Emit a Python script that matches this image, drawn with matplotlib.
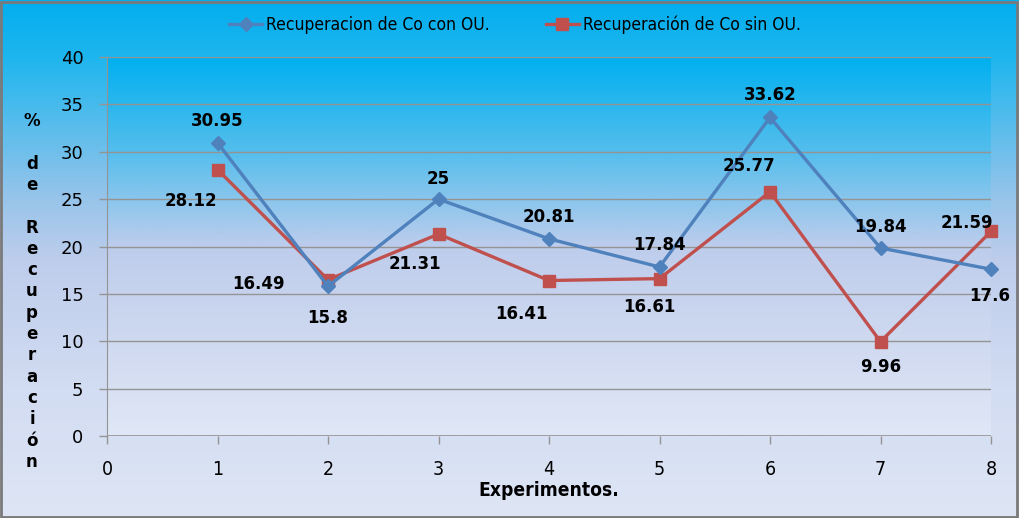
import numpy as np
import matplotlib
matplotlib.use("Agg")
import matplotlib.pyplot as plt
from matplotlib.patches import Rectangle
from matplotlib.font_manager import FontProperties

# ---- data ----
experiments = [1, 2, 3, 4, 5, 6, 7, 8]
con_ou = [30.95, 15.8, 25, 20.81, 17.84, 33.62, 19.84, 17.6]
sin_ou = [28.12, 16.49, 21.31, 16.41, 16.61, 25.77, 9.96, 21.59]
label_con = "Recuperacion de Co con OU."
label_sin = "Recuperación de Co sin OU."
xlabel = "Experimentos."
ylabel = "% de Recuperación"
xticks = [0, 1, 2, 3, 4, 5, 6, 7, 8]
yticks = [0, 5, 10, 15, 20, 25, 30, 35, 40]

# label offsets in pixels (styling)
off_con = [(0, 22), (0, -32), (0, 20), (0, 22), (0, 22), (0, 22), (0, 21), (-1, -27)]
off_sin = [(-27, -31), (-70, -4), (-24, -30), (-28, -33), (-10, -28), (-21, 26), (0, -25), (-24, 8)]

W, H = 1019, 518
fig = plt.figure(figsize=(W / 100, H / 100), dpi=100)

def narrow_fp(size, weight='normal'):
    return FontProperties(family='DejaVu Sans', stretch='condensed', size=size, weight=weight)

def grad(stops, n=256):
    pos = np.array([s[0] for s in stops])
    cols = np.array([s[1] for s in stops]) / 255.0
    t = np.linspace(0, 1, n)
    img = np.stack([np.interp(t, pos, cols[:, i]) for i in range(3)], axis=1)
    return img[:, None, :]

# figure background gradient
bg = fig.add_axes([0, 0, 1, 1], zorder=-10)
bg.imshow(grad([(0, (2, 174, 239)), (0.11, (30, 182, 238)), (0.38, (150, 196, 234)),
                (0.5, (190, 205, 236)), (0.75, (210, 220, 242)), (1, (222, 230, 245))]),
          aspect='auto', extent=[0, 1, 0, 1])
bg.set_xlim(0, 1); bg.set_ylim(0, 1)
bg.axis('off')
bg.add_patch(Rectangle((0.001, 0.002), 0.997, 0.995, transform=bg.transAxes,
                       fill=False, edgecolor='#7a7a7a', linewidth=2.0))

ax = fig.add_axes([107 / W, (H - 436) / H, (991 - 107) / W, (436 - 57) / H])
ax.set_facecolor('none')
ax.imshow(grad([(0, (0, 176, 240)), (0.25, (85, 190, 236)), (0.5, (190, 205, 236)),
                (0.75, (207, 217, 240)), (1, (224, 231, 246))]),
          aspect='auto', extent=[0, 1, 0, 1], transform=ax.transAxes, zorder=0)

ax.set_xlim(0, 8)
ax.set_ylim(0, 40)
ax.set_yticks(yticks)
ax.set_xticks(xticks)
ax.grid(axis='y', color='#949494', linewidth=1.0, zorder=1)
ax.set_axisbelow(True)
for s in ['top', 'right', 'bottom']:
    ax.spines[s].set_visible(False)
ax.spines['left'].set_color('#949494')
ax.axhline(0, color='#949494', linewidth=1.2, zorder=2)
ax.tick_params(axis='y', length=6, width=1, color='#949494', pad=11, labelsize=13)
ax.tick_params(axis='x', length=6, width=1, color='#949494', pad=11)
for lab in ax.get_xticklabels():
    lab.set_fontproperties(narrow_fp(14))

l1, = ax.plot(experiments, con_ou, color='#4F81BD', linewidth=2.4, marker='D',
              markersize=7, zorder=4, label=label_con, clip_on=False)
l2, = ax.plot(experiments, sin_ou, color='#C0504D', linewidth=2.4, marker='s',
              markersize=9, zorder=3, label=label_sin, clip_on=False)

for x, y, o in zip(experiments, con_ou, off_con):
    ax.annotate(f"{y:g}", (x, y), xytext=o, textcoords='offset pixels', ha='center',
                va='center', fontsize=12, fontweight='bold', color='black', zorder=6)
for x, y, o in zip(experiments, sin_ou, off_sin):
    ax.annotate(f"{y:g}", (x, y), xytext=o, textcoords='offset pixels', ha='center',
                va='center', fontsize=12, fontweight='bold', color='black', zorder=6)

fig.text(549 / W, 1 - 491 / H, xlabel, ha='center', va='center',
         fontproperties=narrow_fp(13.8, 'bold'))

# vertical stacked y label
ypix = 121
for ch in ylabel:
    if ch != ' ':
        fig.text(32 / W, 1 - ypix / H, ch, ha='center', va='center', fontsize=12,
                 fontweight='heavy')
    ypix += 21.3

leg = fig.legend(handles=[l1, l2], loc='center', bbox_to_anchor=(515 / W, 1 - 25 / H),
                 ncol=2, frameon=False, prop=narrow_fp(12.5),
                 handlelength=1.9, columnspacing=3.2, handletextpad=0.25)

fig.savefig('out.png', dpi=100)
